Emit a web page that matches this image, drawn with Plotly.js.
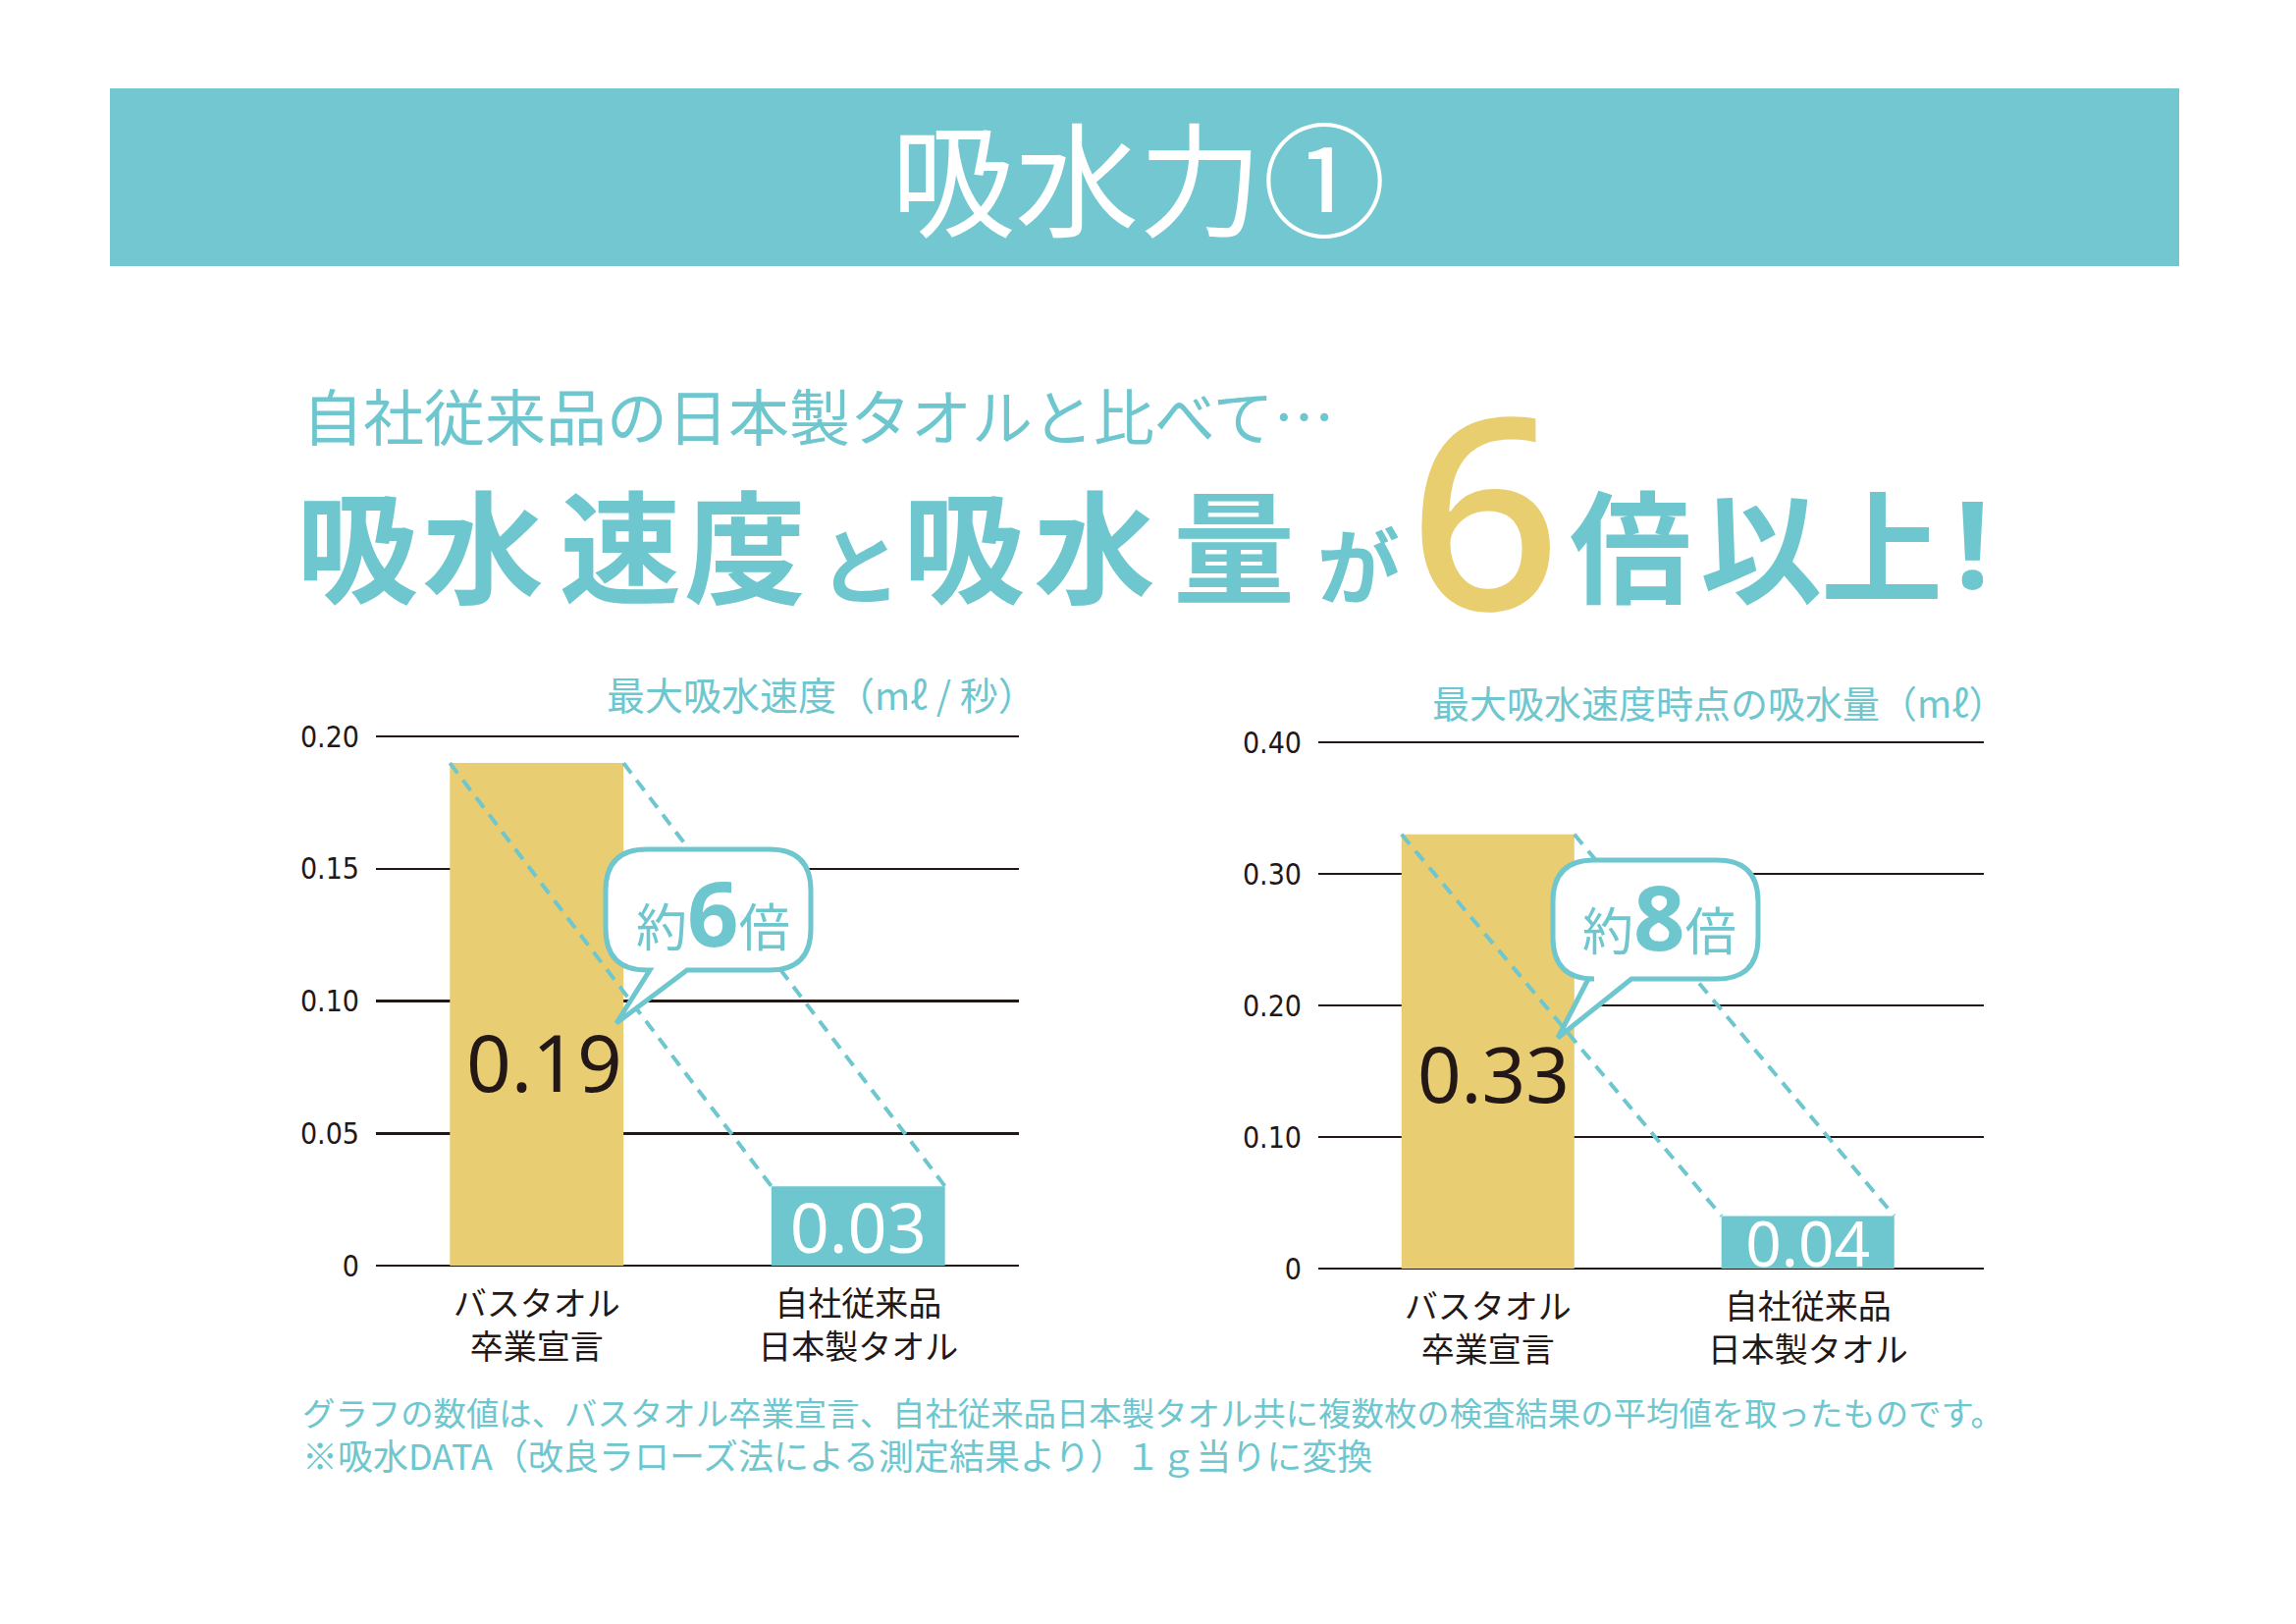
<!DOCTYPE html>
<html><head><meta charset="utf-8">
<script src="https://cdn.plot.ly/plotly-3.0.1.min.js"></script>
<style>html,body{margin:0;padding:0;background:#fff;}</style>
</head><body>
<div id="chart" style="width:2339px;height:1654px;"></div>
<script>
// ---- data ----
const categories = ['バスタオル<br>卒業宣言', '自社従来品<br>日本製タオル'];
const speedValues = [0.19, 0.03];
const amountValues = [0.33, 0.04];
const speedTicks = [0, 0.05, 0.10, 0.15, 0.20];
const speedTickLabels = ['0', '0.05', '0.10', '0.15', '0.20'];
const amountTicks = [0, 0.10, 0.20, 0.30, 0.40];
const amountTickLabels = ['0', '0.10', '0.20', '0.30', '0.40'];
const speedTitle = '最大吸水速度（mℓ / 秒）';
const amountTitle = '最大吸水速度時点の吸水量（mℓ）';
const speedRatio = '6';
const amountRatio = '8';
const bannerTitle = '吸水力①';
const subTitle = '自社従来品の日本製タオルと比べて…';
const headlineChars = ['吸','水','速','度','と','吸','水','量','が','6','倍','以','上','!'];
const footnote1 = 'グラフの数値は、バスタオル卒業宣言、自社従来品日本製タオル共に複数枚の検査結果の平均値を取ったものです。';
const footnote2 = '※吸水DATA（改良ラローズ法による測定結果より）１ｇ当りに変換';

// ---- style ----
const W = 2339, H = 1654;
const CYAN = '#6EC6CE', BANNER = '#72C7D1', YELLOW = '#E8CD72', INK = '#231815';
const JP = '"Noto Sans CJK JP", "Noto Sans", sans-serif';
const NUM = '"Noto Sans", "Noto Sans CJK JP", sans-serif';
const TICK = '"Liberation Sans Narrow", "DejaVu Sans Condensed", "Noto Sans", sans-serif';
const px = x => x / W;
const py = y => 1 - y / H;
const barW = 0.54;
const xpos = [0, 1];

const traces = [];
function addChart(values, xa, ya, textSize) {
  traces.push({
    type: 'bar', x: xpos, y: values, width: barW, xaxis: xa, yaxis: ya,
    marker: {color: [YELLOW, CYAN]},
    text: values.map((v, i) => i === 1 ? v.toFixed(2) : ''),
    textposition: 'inside', insidetextanchor: 'middle', constraintext: 'none',
    textfont: {family: NUM, size: textSize, color: '#ffffff'},
    hoverinfo: 'skip'
  });
  [-1, 1].forEach(s => {
    traces.push({
      type: 'scatter', mode: 'lines', xaxis: xa, yaxis: ya,
      x: xpos.map(p => p + s * barW / 2), y: values,
      line: {color: CYAN, width: 4, dash: '13px,9px'}, hoverinfo: 'skip'
    });
  });
}
addChart(speedValues, 'x', 'y', 70);
addChart(amountValues, 'x2', 'y2', 64);

function xAxis(domain, range) {
  return {domain: domain, range: range, tickvals: xpos, ticktext: categories,
    showgrid: false, zeroline: false, showline: false, ticks: '', fixedrange: true,
    tickfont: {family: JP, size: 34, color: INK}, ticklabelstandoff: 16};
}
function yAxis(domain, range, tv, tt) {
  return {domain: domain, range: range, tickvals: tv, ticktext: tt,
    showgrid: true, gridcolor: INK, gridwidth: 2.5,
    zeroline: true, zerolinecolor: INK, zerolinewidth: 2.5,
    showline: false, ticks: '', fixedrange: true,
    tickfont: {family: TICK, size: 30, color: INK}, ticklabelstandoff: 16};
}

function bubblePath(x0, y0, x1, y1, r, tl, tr, tx, ty) {
  const P = (x, y) => px(x).toFixed(5) + ',' + py(y).toFixed(5);
  return 'M' + P(x0 + r, y0) + ' L' + P(x1 - r, y0) + ' Q' + P(x1, y0) + ' ' + P(x1, y0 + r) +
    ' L' + P(x1, y1 - r) + ' Q' + P(x1, y1) + ' ' + P(x1 - r, y1) +
    ' L' + P(tr, y1) + ' L' + P(tx, ty) + ' L' + P(tl, y1) +
    ' L' + P(x0 + r, y1) + ' Q' + P(x0, y1) + ' ' + P(x0, y1 - r) +
    ' L' + P(x0, y0 + r) + ' Q' + P(x0, y0) + ' ' + P(x0 + r, y0) + ' Z';
}

const shapes = [
  {type: 'rect', xref: 'paper', yref: 'paper', x0: px(112), x1: px(2220), y0: py(90), y1: py(271),
   fillcolor: BANNER, line: {width: 0}, layer: 'above'},
  {type: 'path', xref: 'paper', yref: 'paper', path: bubblePath(617, 865, 826, 988, 42, 662, 700, 628, 1042),
   fillcolor: '#ffffff', line: {color: CYAN, width: 5}, layer: 'above'},
  {type: 'path', xref: 'paper', yref: 'paper', path: bubblePath(1582, 876, 1791, 997, 42, 1618, 1662, 1587, 1057),
   fillcolor: '#ffffff', line: {color: CYAN, width: 5}, layer: 'above'}
];

const ann = [];
function A(text, x, y, size, color, opts) {
  ann.push(Object.assign({text: text, x: px(x), y: py(y), xref: 'paper', yref: 'paper',
    showarrow: false, xanchor: 'center', yanchor: 'middle',
    font: {family: JP, size: size, color: color}}, opts || {}));
}
A(bannerTitle, 1160, 177, 126, '#ffffff');
A(subTitle, 306, 422, 62, CYAN, {xanchor: 'left'});
const headX = [364, 492, 632, 759, 876, 982, 1115, 1257, 1384, 1513, 1661, 1794, 1917, 2009];
headlineChars.forEach((c, i) => {
  let size = 124, y = 551, color = CYAN, fam = JP, weight = 'bold';
  if (c === 'と' || c === 'が') { size = 84; y = 572; }
  if (c === '6') { size = 272; y = 516; color = '#E8CE6E'; fam = NUM; weight = 500; }
  if (c === '!') { fam = NUM; }
  A(c, headX[i], y, size, color, {font: {family: fam, size: size, color: color, weight: weight}});
});
A(speedTitle, 1058, 706, 39, CYAN, {xanchor: 'right'});
A(amountTitle, 2046, 714, 38, CYAN, {xanchor: 'right'});
A(speedValues[0].toFixed(2), 554, 1080, 80, INK, {font: {family: NUM, size: 80, color: INK}});
A(amountValues[0].toFixed(2), 1521, 1093, 78, INK, {font: {family: NUM, size: 78, color: INK}});
const bub = r => '約<span style="font-family:Noto Sans;font-size:92px;font-weight:bold">' + r + '</span>倍';
A(bub(speedRatio), 726, 928, 52, CYAN);
A(bub(amountRatio), 1690, 932, 52, CYAN);
A(footnote1, 306, 1437, 33.4, CYAN, {xanchor: 'left'});
A(footnote2, 306, 1481, 36, CYAN, {xanchor: 'left'});

const layout = {
  width: W, height: H, margin: {l: 0, r: 0, t: 0, b: 0},
  paper_bgcolor: '#ffffff', plot_bgcolor: 'rgba(0,0,0,0)',
  showlegend: false, hovermode: false, barmode: 'overlay',
  xaxis: xAxis([px(383), px(1038)], [-0.5, 1.5]),
  yaxis: yAxis([py(1289), py(748)], [0, 0.2008], speedTicks, speedTickLabels),
  xaxis2: xAxis([px(1343), px(2021)], [-0.53, 1.55]),
  yaxis2: yAxis([py(1292), py(754)], [0, 0.4015], amountTicks, amountTickLabels),
  shapes: shapes, annotations: ann
};
layout.xaxis2.anchor = 'y2'; layout.yaxis2.anchor = 'x2';
Plotly.newPlot('chart', traces, layout, {staticPlot: true, displayModeBar: false});
</script>
</body></html>
